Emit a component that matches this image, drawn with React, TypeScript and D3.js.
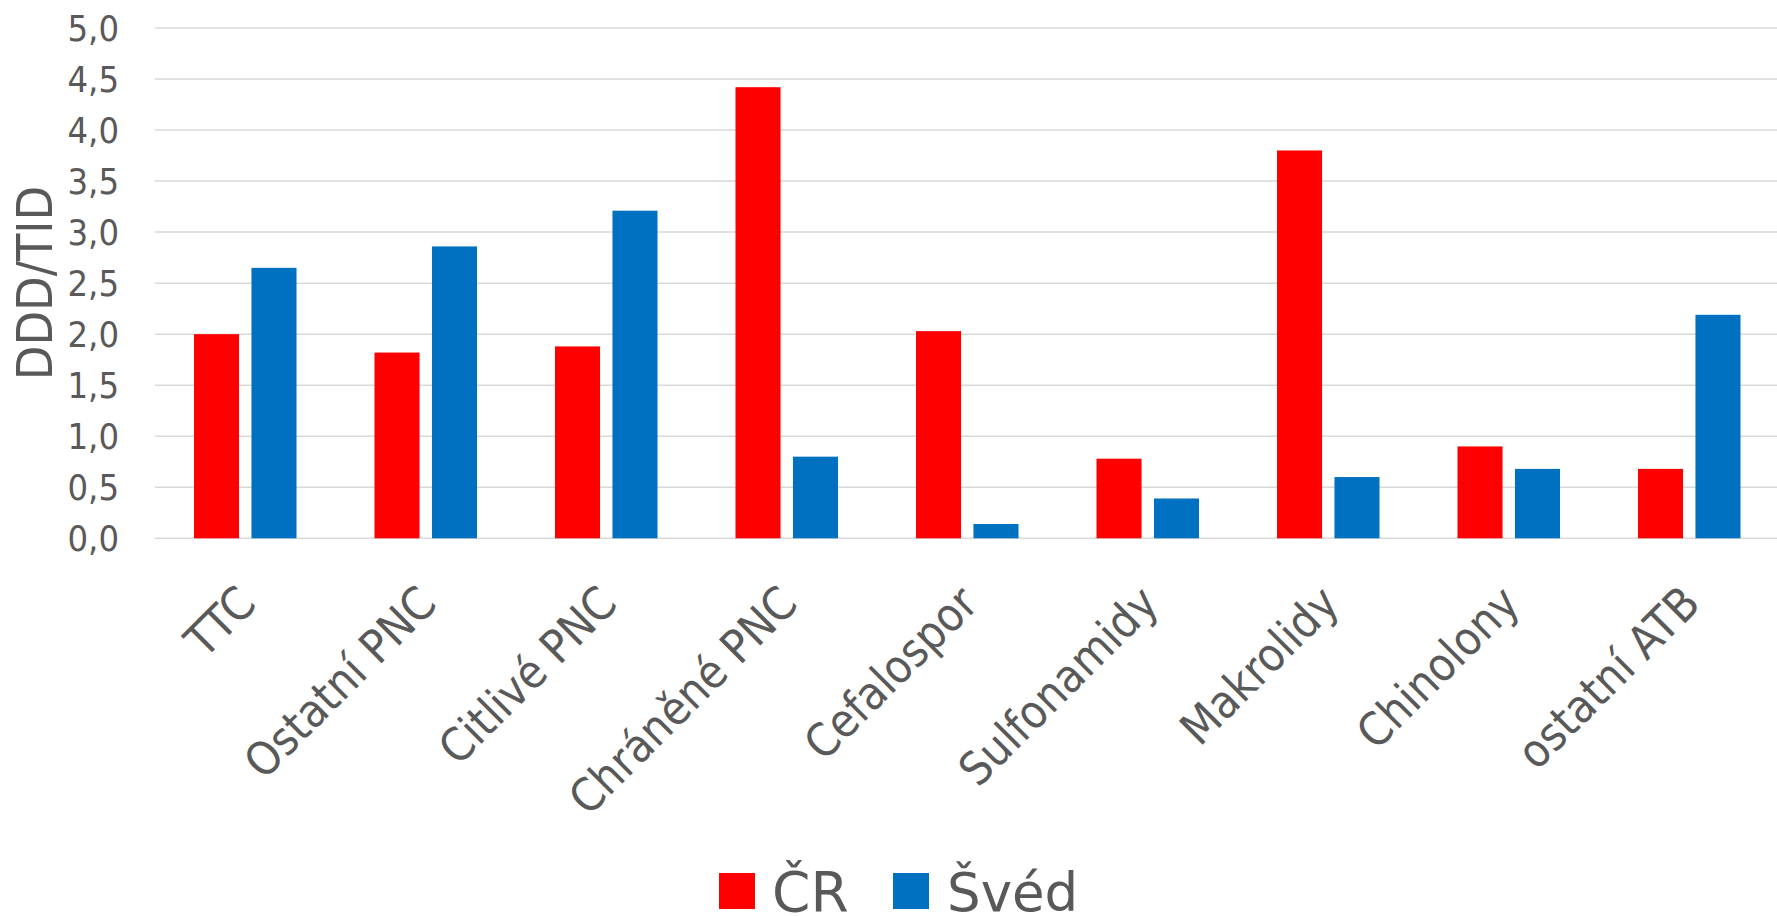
import React from "react";
import * as d3 from "d3";

const categories = ["TTC", "Ostatní PNC", "Citlivé PNC", "Chráněné PNC", "Cefalospor", "Sulfonamidy", "Makrolidy", "Chinolony", "ostatní ATB"];
const seriesNames = ["ČR", "Švéd"];
const valuesCR = [2.0, 1.82, 1.88, 4.42, 2.03, 0.78, 3.8, 0.9, 0.68];
const valuesSV = [2.65, 2.86, 3.21, 0.8, 0.14, 0.39, 0.6, 0.68, 2.19];
const yTicks = [0, 0.5, 1, 1.5, 2, 2.5, 3, 3.5, 4, 4.5, 5];
const seriesColors = ["#FF0000", "#0070C0"];
const yTitle = "DDD/TID";

const W = 1777;
const H = 916;
const FONT = "'DejaVu Sans Condensed', 'DejaVu Sans', sans-serif";
const LEGEND_FONT = "'DejaVu Sans', sans-serif";
const TEXT = "#595959";

export default function App() {
  const plotLeft = 155;
  const band = 180.5;
  const x0 = d3.scaleBand<string>().domain(categories).range([plotLeft, plotLeft + band * categories.length]).padding(0);
  const x1 = d3.scaleBand<string>().domain(seriesNames).range([39, 141.5]).paddingInner(0.216).paddingOuter(0);
  const y = d3.scaleLinear().domain([0, 5]).range([538.3, 28]);
  const data = [valuesCR, valuesSV];
  const fmt = (v: number) => v.toFixed(1).replace(".", ",");

  return (
    <div style={{ position: "fixed", left: 0, top: 0, width: W, height: H, background: "#fff" }}>
      <svg width={W} height={H} style={{ display: "block" }}>
        <rect x={0} y={0} width={W} height={H} fill="#fff" />
        {yTicks.map((t) => (
          <line key={"g" + t} x1={plotLeft} x2={W} y1={y(t)} y2={y(t)} stroke="#D9D9D9" strokeWidth={1.5} />
        ))}
        {yTicks.map((t) => (
          <text key={"t" + t} x={119} y={y(t)} textAnchor="end" dominantBaseline="central" fontFamily={FONT} fontSize={36} fill={TEXT}>
            {fmt(t)}
          </text>
        ))}
        <text transform={`translate(52,283) rotate(-90)`} textAnchor="middle" fontFamily={FONT} fontSize={50} fill={TEXT}>
          {yTitle}
        </text>
        {categories.map((c, i) => (
          <g key={c}>
            {seriesNames.map((s, j) => {
              const v = data[j][i];
              const bx = (x0(c) as number) + (x1(s) as number);
              return (
                <rect key={s} x={bx} y={y(v)} width={x1.bandwidth()} height={y(0) - y(v)} fill={seriesColors[j]} />
              );
            })}
          </g>
        ))}
        {categories.map((c) => {
          const cx = (x0(c) as number) + x0.bandwidth() / 2;
          return (
            <text key={"l" + c} transform={`translate(${cx + 13},${606}) rotate(-45)`} textAnchor="end" fontFamily={FONT} fontSize={46} fill={TEXT}>
              {c}
            </text>
          );
        })}
        <g>
          <rect x={719} y={873} width={36} height={36} fill={seriesColors[0]} />
          <text x={772} y={911} fontFamily={LEGEND_FONT} fontSize={55} fill={TEXT}>{seriesNames[0]}</text>
          <rect x={893} y={873} width={36} height={36} fill={seriesColors[1]} />
          <text x={947} y={911} fontFamily={LEGEND_FONT} fontSize={53} fill={TEXT}>{seriesNames[1]}</text>
        </g>
      </svg>
    </div>
  );
}
